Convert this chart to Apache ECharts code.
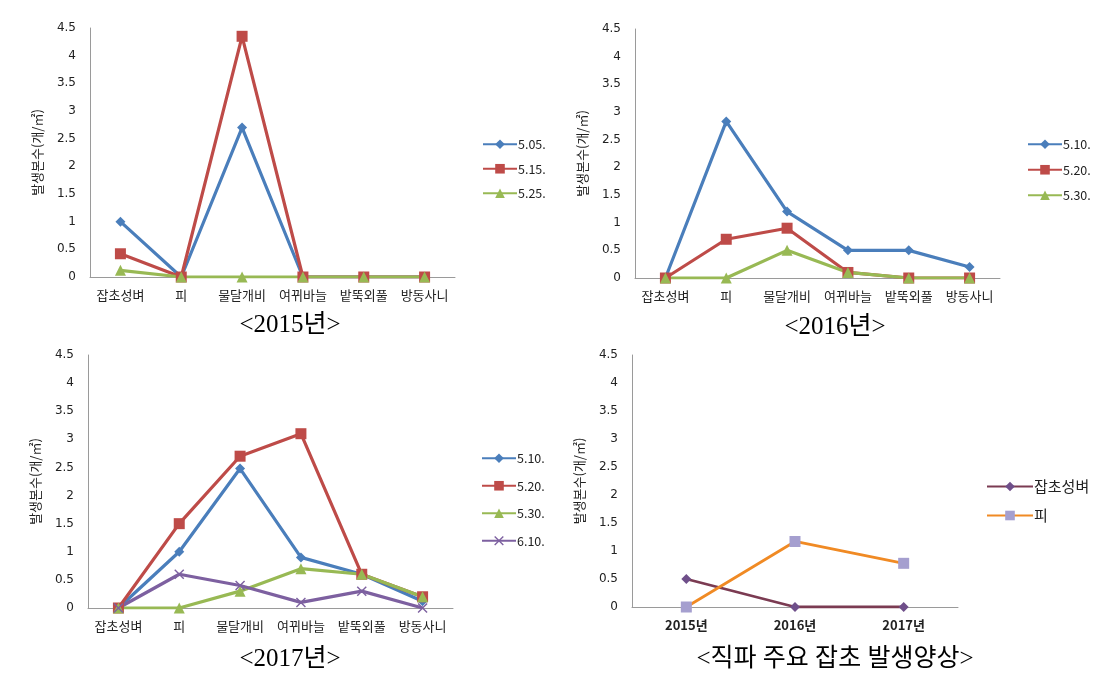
<!DOCTYPE html>
<html><head><meta charset="utf-8">
<script src="https://cdn.jsdelivr.net/npm/echarts@6/dist/echarts.min.js"></script>
<style>html,body{margin:0;padding:0;background:#fff}#c{width:1101px;height:682px}</style>
</head><body><div id="c"></div>
<script>
const weeds = ['잡초성벼','피','물달개비','여뀌바늘','밭뚝외풀','방동사니'];
const years = ['2015년','2016년','2017년'];
const yTicks = [0,0.5,1,1.5,2,2.5,3,3.5,4,4.5];
const yName = '발생본수(개/㎡)';

const names2015 = ['5.05.','5.15.','5.25.'];
const d2015_505 = [1.0, 0, 2.7, 0, 0, 0];
const d2015_515 = [0.42, 0, 4.35, 0, 0, 0];
const d2015_525 = [0.12, 0, 0, 0, 0, 0];

const names2016 = ['5.10.','5.20.','5.30.'];
const d2016_510 = [0, 2.83, 1.2, 0.5, 0.5, 0.2];
const d2016_520 = [0, 0.7, 0.9, 0.1, 0, 0];
const d2016_530 = [0, 0, 0.5, 0.1, 0, 0];

const names2017 = ['5.10.','5.20.','5.30.','6.10.'];
const d2017_510 = [0, 1.0, 2.48, 0.9, 0.6, 0.12];
const d2017_520 = [0, 1.5, 2.7, 3.1, 0.6, 0.2];
const d2017_530 = [0, 0, 0.3, 0.7, 0.6, 0.2];
const d2017_610 = [0, 0.6, 0.4, 0.1, 0.3, 0];

const namesTrend = ['잡초성벼','피'];
const trendRice = [0.5, 0, 0];
const trendPi = [0, 1.17, 0.78];

const BLUE='#4a7ebb', RED='#be4b48', GREEN='#98b954', PURPLE='#7d60a0';
const XSYM = 'path://M0,1L1,0L5,4L9,0L10,1L6,5L10,9L9,10L5,6L1,10L0,9L4,5Z';

const grids = [
  {left:90, top:28, width:365, height:249},
  {left:635, top:29, width:365, height:249},
  {left:88, top:355, width:365, height:253},
  {left:632, top:355, width:326, height:252}
];

function xAx(i, data, bold){
  return {type:'category', gridIndex:i, data:data, boundaryGap:true,
    axisLine:{lineStyle:{color:'#9a9a9a', width:1}}, axisTick:{show:false},
    axisLabel:{color:'#222', fontSize: 13, fontWeight: bold?'bold':'normal', margin:12, interval:0,
      fontFamily:'"Noto Sans CJK KR", sans-serif'}};
}
function yAx(i){
  return {type:'value', gridIndex:i, min:0, max:4.5, interval:0.5,
    name:yName, nameLocation:'middle', nameGap:46, nameRotate:90,
    nameTextStyle:{fontSize:13, color:'#222', fontFamily:'"Noto Sans CJK KR", sans-serif'},
    axisLine:{show:true, lineStyle:{color:'#9a9a9a', width:1}}, axisTick:{show:false},
    splitLine:{show:false},
    axisLabel:{color:'#222', fontSize:12, margin:14, fontFamily:'Verdana, "DejaVu Sans", sans-serif',
      formatter: v => yTicks.includes(v) ? String(v) : ''}};
}
function ser(i, name, data, color, symbol, size, mcolor, lw){
  return {type:'line', name:name, xAxisIndex:i, yAxisIndex:i, data:data,
    symbol:symbol, symbolSize:size, showSymbol:true,
    lineStyle:{color:color, width: lw||3.2}, itemStyle:{color: mcolor||color, borderWidth:0},
    emphasis:{disabled:true}, animation:false};
}
function leg(i, names, left, top, gap, fs, iw){
  return {orient:'vertical', left:left, top:top, itemGap:gap, itemWidth:iw||34, itemHeight:12,
    data:names.map(n=>({name:n})), selectedMode:false,
    textStyle:{fontSize:fs||12.5, color:'#222', padding:[0,0,0,-4], fontFamily:'Verdana, "Noto Sans CJK KR", sans-serif'}};
}

const series = [
  ser(0, names2015[0], d2015_505, BLUE, 'diamond', 10),
  ser(0, names2015[1], d2015_515, RED, 'rect', 11),
  ser(0, names2015[2], d2015_525, GREEN, 'triangle', 11),
  ser(1, names2016[0]+' ', d2016_510, BLUE, 'diamond', 10),
  ser(1, names2016[1]+' ', d2016_520, RED, 'rect', 11),
  ser(1, names2016[2]+' ', d2016_530, GREEN, 'triangle', 11),
  ser(2, names2017[0]+'  ', d2017_510, BLUE, 'diamond', 10),
  ser(2, names2017[1]+'  ', d2017_520, RED, 'rect', 11),
  ser(2, names2017[2]+'  ', d2017_530, GREEN, 'triangle', 11),
  ser(2, names2017[3]+'  ', d2017_610, PURPLE, XSYM, 10),
  ser(3, namesTrend[0], trendRice, '#7b3b52', 'diamond', 10, '#6f4f8a', 2.8),
  ser(3, namesTrend[1], trendPi, '#f08a24', 'rect', 11, '#a59fcf', 2.8)
];

const chart = echarts.init(document.getElementById('c'), null, {renderer:'canvas'});
const TF = '25px "Liberation Serif", "Noto Sans CJK KR", serif';
chart.setOption({
  backgroundColor:'#fff',
  animation:false,
  grid: grids,
  xAxis:[xAx(0,weeds), xAx(1,weeds), xAx(2,weeds), xAx(3,years,true)],
  yAxis:[yAx(0), yAx(1), yAx(2), yAx(3)],
  legend:[
    leg(0, names2015, 477, 133, 12),
    leg(1, names2016.map(n=>n+' '), 1022, 133, 13),
    leg(2, names2017.map(n=>n+'  '), 476, 447, 15),
    leg(3, namesTrend, 981, 474, 14, 15, 46)
  ],
  series: series,
  graphic:[
    {type:'text', x:290, y:325, style:{text:'<2015년>', textAlign:'center', textVerticalAlign:'middle', font:TF, fill:'#000'}},
    {type:'text', x:835, y:327, style:{text:'<2016년>', textAlign:'center', textVerticalAlign:'middle', font:TF, fill:'#000'}},
    {type:'text', x:290, y:659, style:{text:'<2017년>', textAlign:'center', textVerticalAlign:'middle', font:TF, fill:'#000'}},
    {type:'text', x:835, y:659, style:{text:'<직파 주요 잡초 발생양상>', textAlign:'center', textVerticalAlign:'middle', font:TF, fill:'#000'}}
  ]
});
</script></body></html>
